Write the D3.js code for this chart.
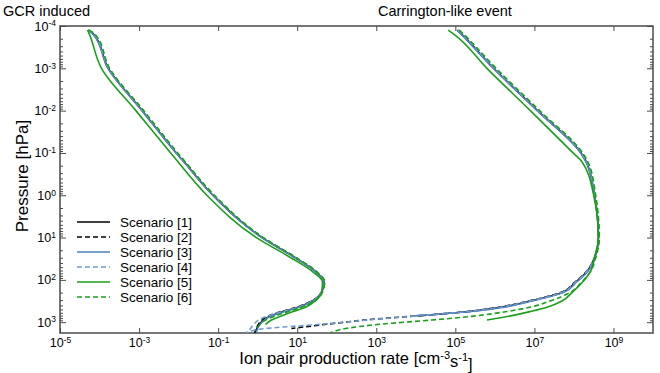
<!DOCTYPE html>
<html>
<head>
<meta charset="utf-8">
<script src="https://cdn.jsdelivr.net/npm/d3@7"></script>
<style>
body { margin: 0; background: #fff; }
svg text { font-family: "Liberation Sans", Arial, sans-serif; fill: #000; }
</style>
</head>
<body>
<div id="chart"></div>
<script>
// pressure levels (hPa) shared by all profiles
var pressure = [1.25e-4, 1.6e-4, 1e-3, 1e-2, 0.1, 0.16, 1, 10, 30, 63, 112, 200, 316, 450, 560, 710, 890, 1120, 1410, 1780];

// GCR induced ion pair production rates [cm-3 s-1]
var gcr1 = [5.1e-5, 7.2e-5, 1.66e-4, 1.2e-3, 8.7e-3, 1.35e-2, 7.4e-2, 1.29, 8.9, 28.8, 47.9, 40.7, 24.0, 10.0, 4.47, 2.09, 1.38, 1.10, 0.95, 0.87];
var gcr2 = [5.3e-5, 7.5e-5, 1.75e-4, 1.27e-3, 9.2e-3, 1.42e-2, 7.8e-2, 1.35, 9.3, 30, 49, 41, 23, 9.3, 4.0, 1.9, 1.3, 1.05, 0.92, 0.84];
var gcr3 = [5.0e-5, 7.0e-5, 1.63e-4, 1.18e-3, 8.6e-3, 1.33e-2, 7.3e-2, 1.27, 8.8, 28.5, 47.5, 40.5, 24.5, 10.5, 4.8, 2.2, 1.45, 1.15, 1.0, 0.92];
var gcr4 = [5.2e-5, 7.3e-5, 1.7e-4, 1.23e-3, 8.9e-3, 1.38e-2, 7.6e-2, 1.32, 9.1, 29.5, 48.5, 41, 24, 9.8, 4.2, 1.8, 1.05, 0.8, 0.66, 0.56];
var gcr5 = [5.0e-5, 5.6e-5, 1.12e-4, 8.3e-4, 6.3e-3, 9.5e-3, 5.2e-2, 0.93, 6.9, 24, 43.6, 41.7, 28.2, 15.8, 7.9, 4.0, 2.24, 1.58, null, null];
var gcr6 = [5.4e-5, 7.8e-5, 1.8e-4, 1.3e-3, 9.5e-3, 1.45e-2, 8.0e-2, 1.38, 9.4, 30, 49.5, 43, 27, 12.5, 6.0, 2.8, 1.6, 1.15, 0.95, null];

// Carrington-like event ion pair production rates [cm-3 s-1]
var car1 = [1.12e5, 1.48e5, 9.3e5, 1.2e7, 1.51e8, 2.04e8, 3.31e8, 4.17e8, 3.31e8, 2.14e8, 1.12e8, 5.0e7, 7.9e6, 1.32e6, 2.24e5, 1.12e4, null, null, null, null];
var car2 = [1.2e5, 1.58e5, 1.0e6, 1.26e7, 1.58e8, 2.14e8, 3.39e8, 4.27e8, 3.31e8, 2.09e8, 1.07e8, 4.6e7, 7.1e6, 1.12e6, 2.0e5, 1.0e4, 500, 56, 7.1, null];
var car3 = [1.12e5, 1.45e5, 9.1e5, 1.17e7, 1.48e8, 2.0e8, 3.31e8, 4.17e8, 3.39e8, 2.24e8, 1.17e8, 5.4e7, 8.5e6, 1.51e6, 2.5e5, 8.9e3, null, null, null, null];
var car4 = [1.17e5, 1.55e5, 9.8e5, 1.23e7, 1.55e8, 2.09e8, 3.39e8, 4.27e8, 3.31e8, 2.09e8, 1.1e8, 4.8e7, 7.4e6, 1.2e6, 2.1e5, 1.0e4, 560, 40, 1.6, 0.5];
var car5 = [6.6e4, 9.5e4, 6.3e5, 7.9e6, 9.5e7, 1.58e8, 3.16e8, 4.17e8, 3.31e8, 2.63e8, 1.66e8, 8.9e7, 5.0e7, 2.0e7, 7.9e6, 2.5e6, 6.3e5, null, null, null];
var car6 = [1.26e5, 1.66e5, 1.07e6, 1.35e7, 1.66e8, 2.24e8, 3.55e8, 4.37e8, 3.55e8, 2.63e8, 1.58e8, 7.9e7, 2.5e7, 7.1e6, 2.0e6, 3.2e5, 2.5e4, 1.2e3, 170, 69];

var scenarioNames = ["Scenario [1]", "Scenario [2]", "Scenario [3]", "Scenario [4]", "Scenario [5]", "Scenario [6]"];
var gcrSeries = [gcr1, gcr2, gcr3, gcr4, gcr5, gcr6];
var carSeries = [car1, car2, car3, car4, car5, car6];

var xTicks = [1e-5, 1e-3, 1e-1, 1e1, 1e3, 1e5, 1e7, 1e9];
var yTicks = [1e-4, 1e-3, 1e-2, 1e-1, 1e0, 1e1, 1e2, 1e3];

var colors = ["#000000", "#000000", "#4d7fba", "#6e9cce", "#1a9f1a", "#1a9f1a"];
var dashes = [null, "5,3", null, "5,3", null, "5,3"];

var width = 660, height = 373;
var margin = { top: 26, right: 7, bottom: 40, left: 60 };
var plotW = width - margin.left - margin.right;
var plotH = height - margin.top - margin.bottom;
var axisColor = "#4a4a4a";

var xscale = d3.scaleLog().domain([1e-5, 1e10]).range([0, plotW]);
var yscale = d3.scaleLog().domain([1e-4, 1800]).range([0, plotH]);

var svg = d3.select("#chart")
    .append("svg")
    .attr("width", width)
    .attr("height", height);

var g = svg.append("g")
    .attr("transform", "translate(" + margin.left + "," + margin.top + ")");

g.append("clipPath")
    .attr("id", "plotclip")
    .append("rect")
    .attr("width", plotW)
    .attr("height", plotH);

function expLabel(sel) {
    sel.each(function (d) {
        var t = d3.select(this).text(null);
        t.append("tspan").text("10");
        t.append("tspan")
            .attr("dy", "-0.5em")
            .attr("font-size", "8.5px")
            .text(String(Math.round(Math.log10(d))));
    });
}

// minor ticks for the log pressure axis
var yMinor = [];
yTicks.forEach(function (t) {
    for (var k = 2; k <= 9; k++) {
        if (t * k <= 1800) yMinor.push(t * k);
    }
});

// axes
var xBottom = g.append("g")
    .attr("transform", "translate(0," + plotH + ")")
    .call(d3.axisBottom(xscale).tickValues(xTicks).tickSizeInner(-5).tickSizeOuter(0).tickPadding(5));
xBottom.selectAll(".tick text").attr("font-size", "12.5px").call(expLabel);

g.append("g")
    .call(d3.axisTop(xscale).tickValues(xTicks).tickSizeInner(-5).tickSizeOuter(0).tickFormat(""));

var yLeft = g.append("g")
    .call(d3.axisLeft(yscale).tickValues(yTicks).tickSizeInner(-6).tickSizeOuter(0).tickPadding(4));
yLeft.selectAll(".tick text").attr("font-size", "12.5px").call(expLabel);

g.append("g")
    .call(d3.axisLeft(yscale).tickValues(yMinor).tickSizeInner(-3).tickSizeOuter(0).tickFormat(""));

g.append("g")
    .attr("transform", "translate(" + plotW + ",0)")
    .call(d3.axisRight(yscale).tickValues(yTicks).tickSizeInner(-6).tickSizeOuter(0).tickFormat(""));
g.append("g")
    .attr("transform", "translate(" + plotW + ",0)")
    .call(d3.axisRight(yscale).tickValues(yMinor).tickSizeInner(-3).tickSizeOuter(0).tickFormat(""));

g.selectAll(".domain").remove();
g.selectAll(".tick line").attr("stroke", axisColor).attr("stroke-width", 1);

g.append("rect")
    .attr("width", plotW)
    .attr("height", plotH)
    .attr("fill", "none")
    .attr("stroke", axisColor)
    .attr("stroke-width", 1.5);

// profiles
var line = d3.line()
    .defined(function (d) { return d[1] != null; })
    .x(function (d) { return xscale(d[1]); })
    .y(function (d) { return yscale(d[0]); })
    .curve(d3.curveMonotoneY);

var lines = g.append("g").attr("clip-path", "url(#plotclip)");

scenarioNames.forEach(function (name, i) {
    [gcrSeries[i], carSeries[i]].forEach(function (rates) {
        var pts = pressure.map(function (p, j) { return [p, rates[j]]; });
        lines.append("path")
            .datum(pts)
            .attr("d", line)
            .attr("fill", "none")
            .attr("stroke", colors[i])
            .attr("stroke-width", 1.6)
            .attr("stroke-dasharray", dashes[i]);
    });
});

// legend
var legend = svg.append("g").attr("transform", "translate(77,222)");
scenarioNames.forEach(function (name, i) {
    var row = legend.append("g").attr("transform", "translate(0," + (i * 15) + ")");
    row.append("line")
        .attr("x1", 0).attr("x2", 33)
        .attr("stroke", colors[i])
        .attr("stroke-width", 1.6)
        .attr("stroke-dasharray", dashes[i]);
    row.append("text")
        .attr("x", 43)
        .attr("y", 5)
        .attr("font-size", "13.5px")
        .text(name);
});

// titles
svg.append("text")
    .attr("x", 3).attr("y", 16)
    .attr("font-size", "14.5px")
    .text("GCR induced");
svg.append("text")
    .attr("x", 378).attr("y", 16)
    .attr("font-size", "14.5px")
    .text("Carrington-like event");

// axis labels
var xl = svg.append("text")
    .attr("x", 356).attr("y", 364)
    .attr("text-anchor", "middle")
    .attr("font-size", "16.5px");
xl.append("tspan").text("Ion pair production rate [cm");
xl.append("tspan").attr("dy", "-0.5em").attr("font-size", "11px").text("-3");
xl.append("tspan").attr("dy", "0.5em").text("s");
xl.append("tspan").attr("dy", "-0.5em").attr("font-size", "11px").text("-1");
xl.append("tspan").attr("dy", "0.5em").text("]");

svg.append("text")
    .attr("transform", "translate(28,176) rotate(-90)")
    .attr("text-anchor", "middle")
    .attr("font-size", "17px")
    .text("Pressure [hPa]");
</script>
</body>
</html>
